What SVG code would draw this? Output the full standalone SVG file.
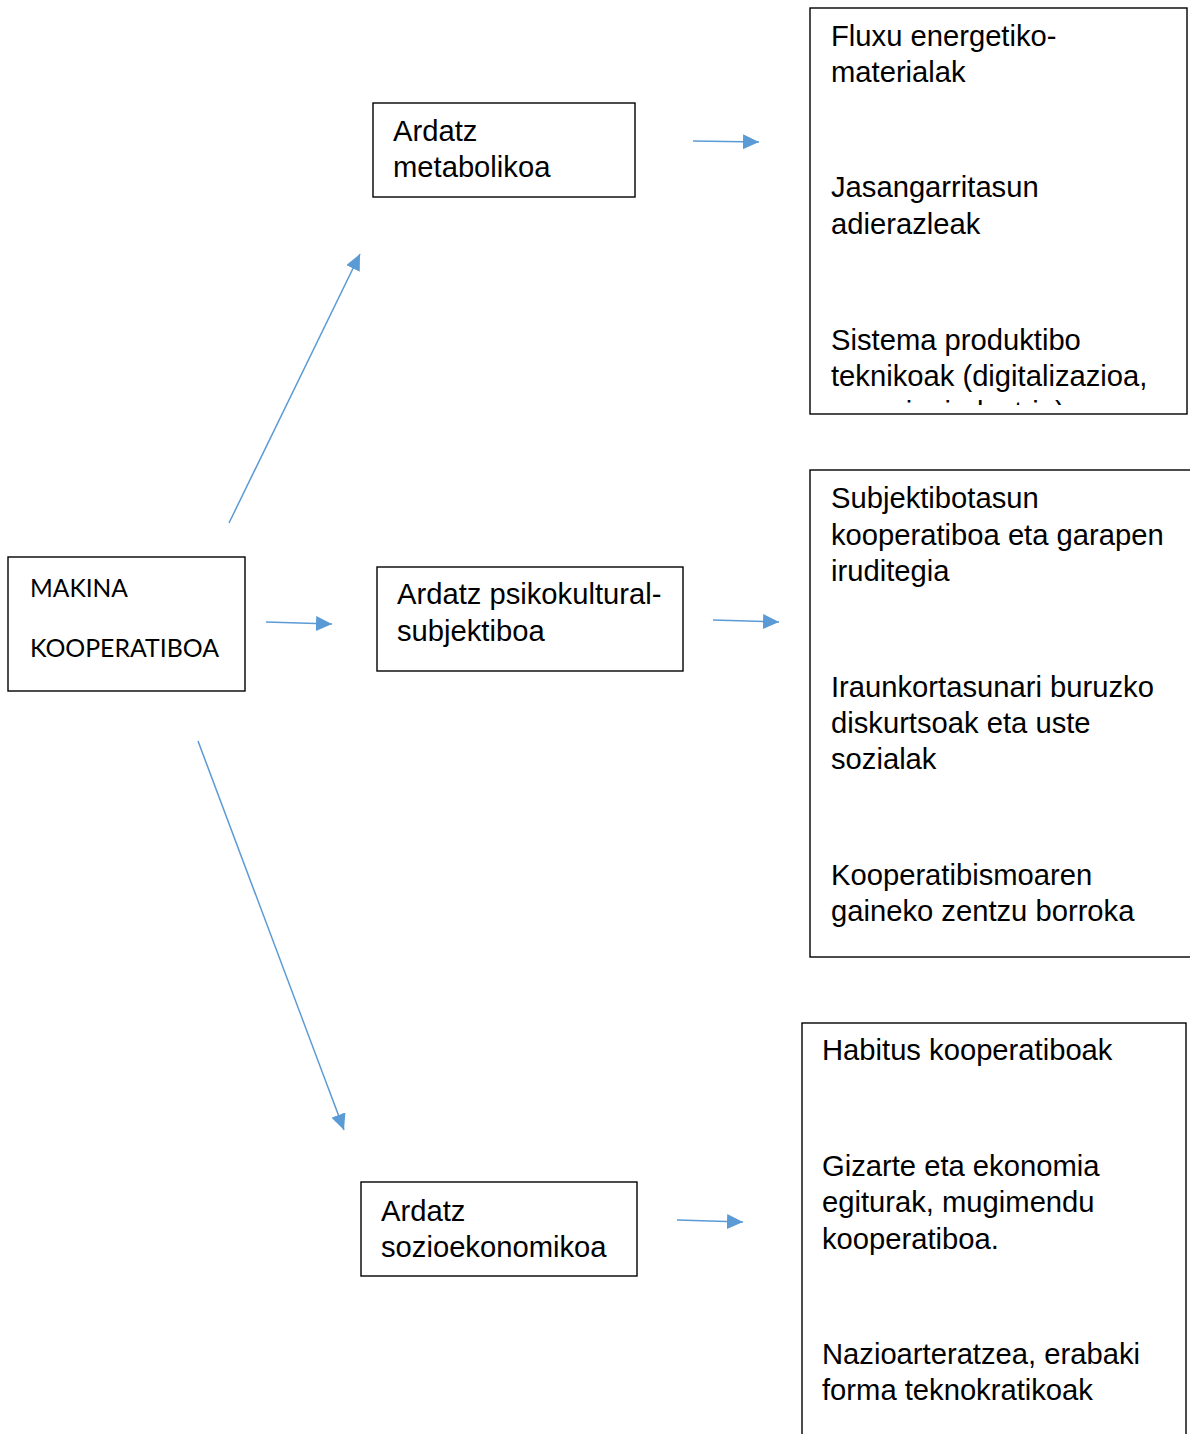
<svg xmlns="http://www.w3.org/2000/svg" width="1190" height="1434" viewBox="0 0 1190 1434">
<style>
.box{fill:#fff;stroke:#000;stroke-width:1.4}
.t{font-family:"Liberation Sans",Arial,sans-serif;font-size:29.2px;fill:#000}
.m{font-family:Lato,"Open Sans",sans-serif;font-size:25px;fill:#000}
.c{stroke:#5B9BD5;stroke-width:1.5;fill:none}
</style>
<defs>
<marker id="ah" markerUnits="userSpaceOnUse" markerWidth="16" markerHeight="15" refX="16" refY="7.5" orient="auto">
<path d="M0,0 L16,7.5 L0,15 z" fill="#5B9BD5"/>
</marker>
<clipPath id="clip1"><rect x="810" y="8" width="377" height="397"/></clipPath>
</defs>
<rect width="1190" height="1434" fill="#fff"/>
<g id="makina">
<rect class="box" x="8" y="557" width="237" height="134"/>
<text class="m" x="30" y="597" textLength="98" lengthAdjust="spacingAndGlyphs">MAKINA</text>
<text class="m" x="30" y="657" textLength="189" lengthAdjust="spacingAndGlyphs">KOOPERATIBOA</text>
</g>
<g id="metabolikoa">
<rect class="box" x="373" y="103" width="262" height="94"/>
<text class="t" x="393" y="141">Ardatz</text>
<text class="t" x="393" y="177">metabolikoa</text>
</g>
<g id="psikokulturala">
<rect class="box" x="377" y="567" width="306" height="104"/>
<text class="t" x="397" y="604">Ardatz psikokultural-</text>
<text class="t" x="397" y="641">subjektiboa</text>
</g>
<g id="sozioekonomikoa">
<rect class="box" x="361" y="1182" width="276" height="94"/>
<text class="t" x="381" y="1221">Ardatz</text>
<text class="t" x="381" y="1257">sozioekonomikoa</text>
</g>
<g id="metabolikoa-zerrenda">
<rect class="box" x="810" y="8" width="377" height="406"/>
<g clip-path="url(#clip1)">
<text class="t" x="831" y="46">Fluxu energetiko-</text>
<text class="t" x="831" y="82">materialak</text>
<text class="t" x="831" y="197">Jasangarritasun</text>
<text class="t" x="831" y="234">adierazleak</text>
<text class="t" x="831" y="350">Sistema produktibo</text>
<text class="t" x="831" y="386">teknikoak (digitalizazioa,</text>
<text class="t" x="831" y="422">energia, industria)</text>
</g>
</g>
<g id="psikokulturala-zerrenda">
<rect class="box" x="810" y="470" width="400" height="487"/>
<text class="t" x="831" y="508">Subjektibotasun</text>
<text class="t" x="831" y="545">kooperatiboa eta garapen</text>
<text class="t" x="831" y="581">iruditegia</text>
<text class="t" x="831" y="697">Iraunkortasunari buruzko</text>
<text class="t" x="831" y="733">diskurtsoak eta uste</text>
<text class="t" x="831" y="769">sozialak</text>
<text class="t" x="831" y="885">Kooperatibismoaren</text>
<text class="t" x="831" y="921">gaineko zentzu borroka</text>
</g>
<g id="sozioekonomikoa-zerrenda">
<rect class="box" x="802" y="1023" width="384" height="430"/>
<text class="t" x="822" y="1060">Habitus kooperatiboak</text>
<text class="t" x="822" y="1176">Gizarte eta ekonomia</text>
<text class="t" x="822" y="1212">egiturak, mugimendu</text>
<text class="t" x="822" y="1249">kooperatiboa.</text>
<text class="t" x="822" y="1364">Nazioarteratzea, erabaki</text>
<text class="t" x="822" y="1400">forma teknokratikoak</text>
</g>
<g id="connectors">
<line class="c" x1="693" y1="141" x2="759" y2="142" marker-end="url(#ah)"/>
<line class="c" x1="266" y1="622" x2="332" y2="624" marker-end="url(#ah)"/>
<line class="c" x1="713" y1="620" x2="779" y2="622" marker-end="url(#ah)"/>
<line class="c" x1="677" y1="1220" x2="743" y2="1222" marker-end="url(#ah)"/>
<line class="c" x1="229" y1="523" x2="360" y2="254" marker-end="url(#ah)"/>
<line class="c" x1="198" y1="741" x2="344" y2="1130" marker-end="url(#ah)"/>
</g>
</svg>
